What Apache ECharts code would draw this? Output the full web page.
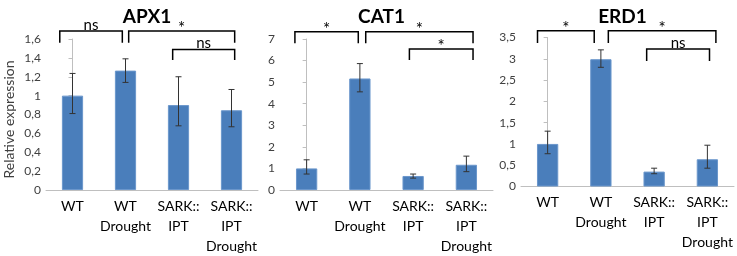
<!DOCTYPE html>
<html>
<head>
<meta charset="utf-8">
<script src="https://cdn.jsdelivr.net/npm/echarts@6/dist/echarts.min.js"></script>
<style>
  html, body { margin: 0; padding: 0; background: #fff; }
  #chart { width: 737px; height: 256px; }
</style>
</head>
<body>
<div id="chart"></div>
<script>
// categories shared by the three panels
const categories = ["WT", "WT\nDrought", "SARK::\nIPT", "SARK::\nIPT\nDrought"];

// APX1
const apx1Mean = [1.0, 1.265, 0.9, 0.845];
const apx1Low = [0.81, 1.14, 0.68, 0.67];
const apx1High = [1.235, 1.39, 1.2, 1.065];
// CAT1
const cat1Mean = [1.0, 5.17, 0.65, 1.17];
const cat1Low = [0.74, 4.55, 0.55, 0.85];
const cat1High = [1.4, 5.86, 0.74, 1.57];
// ERD1
const erd1Mean = [1.0, 2.99, 0.35, 0.64];
const erd1Low = [0.77, 2.8, 0.3, 0.43];
const erd1High = [1.3, 3.21, 0.43, 0.97];

// significance brackets: [from (category pos), to, top value, leg end value, label]
const apx1Brackets = [
  [-0.24, 0.94, 1.684, 1.56, "ns"],
  [1.06, 3.06, 1.684, 1.56, "*"],
  [1.89, 3.06, 1.49, 1.377, "ns"],
];
const cat1Brackets = [
  [-0.22, 0.97, 7.34, 6.8, "*"],
  [1.11, 3.125, 7.34, 6.8, "*"],
  [1.93, 3.125, 6.54, 6.03, "*"],
];
const erd1Brackets = [
  [-0.19, 0.875, 3.66, 3.37, "*"],
  [1.14, 3.16, 3.66, 3.37, "*"],
  [1.86, 3.04, 3.23, 2.95, "ns"],
];

// y axis scales
const yMax = [1.6, 7, 3.5];
const yStep = [0.2, 1, 0.5];
const titles = ["APX1", "CAT1", "ERD1"];

const FONT = "Lato";
const AXIS = "#bfbfbf";
const BAR = "#4a7ebb";

const panels = [
  { mean: apx1Mean, low: apx1Low, high: apx1High, brackets: apx1Brackets },
  { mean: cat1Mean, low: cat1Low, high: cat1High, brackets: cat1Brackets },
  { mean: erd1Mean, low: erd1Low, high: erd1High, brackets: erd1Brackets },
];

const grids = [
  { left: 46, top: 39, width: 212, height: 151 },
  { left: 280, top: 39, width: 213, height: 151 },
  { left: 521, top: 37.5, width: 213, height: 149 },
];

const fmt = (v) => String(Number(v.toFixed(2))).replace(".", ",");

const xAxis = [];
const yAxis = [];
const series = [];
const title = [];

panels.forEach((p, i) => {
  const g = grids[i];
  // visible category axis
  xAxis.push({
    type: "category",
    gridIndex: i,
    data: categories,
    axisLine: { lineStyle: { color: AXIS } },
    axisTick: { length: 4, lineStyle: { color: AXIS } },
    axisLabel: { color: "#000", fontFamily: FONT, fontSize: 14, lineHeight: 20, margin: 6, interval: 0 },
  });
  // hidden value axis for bracket positions
  xAxis.push({ type: "value", gridIndex: i, min: -0.5, max: 3.5, show: false });
  yAxis.push({
    type: "value",
    gridIndex: i,
    min: 0,
    max: yMax[i],
    interval: yStep[i],
    axisLine: { show: true, lineStyle: { color: AXIS } },
    axisTick: { show: true, length: 4, lineStyle: { color: AXIS } },
    splitLine: { show: false },
    axisLabel: { color: "#404040", fontFamily: FONT, fontSize: 12, margin: 5, formatter: fmt },
    name: i === 0 ? "Relative expression" : "",
    nameLocation: "middle",
    nameGap: 30,
    nameTextStyle: { color: "#404040", fontFamily: FONT, fontSize: 14, padding: [0, 0, 0, -10] },
  });

  title.push({
    text: titles[i],
    left: g.left + g.width / 2 - 10,
    top: 2,
    textAlign: "center",
    textStyle: { fontFamily: FONT, fontWeight: "bold", fontSize: 19, color: "#000" },
  });

  series.push({
    type: "bar",
    xAxisIndex: i * 2,
    yAxisIndex: i,
    data: p.mean,
    barWidth: "40%",
    itemStyle: { color: BAR, borderColor: "#6b97cc", borderWidth: 1 },
    silent: true,
  });

  // error bars
  series.push({
    type: "custom",
    xAxisIndex: i * 2,
    yAxisIndex: i,
    data: p.mean.map((_, k) => [k, p.low[k], p.high[k]]),
    encode: { x: 0, y: [1, 2] },
    z: 5,
    renderItem: (params, api) => {
      const lo = api.coord([api.value(0), api.value(1)]);
      const hi = api.coord([api.value(0), api.value(2)]);
      const cap = 3;
      const style = { stroke: "#333", lineWidth: 1 };
      return {
        type: "group",
        children: [
          { type: "line", shape: { x1: lo[0], y1: lo[1], x2: hi[0], y2: hi[1] }, style },
          { type: "line", shape: { x1: hi[0] - cap, y1: hi[1], x2: hi[0] + cap, y2: hi[1] }, style },
          { type: "line", shape: { x1: lo[0] - cap, y1: lo[1], x2: lo[0] + cap, y2: lo[1] }, style },
        ],
      };
    },
  });

  // significance brackets
  series.push({
    type: "custom",
    xAxisIndex: i * 2 + 1,
    yAxisIndex: i,
    clip: false,
    data: p.brackets.map((b) => [b[0], b[1], b[2], b[3]]),
    encode: { x: [0, 1], y: [2, 3] },
    z: 6,
    renderItem: (params, api) => {
      const b = p.brackets[params.dataIndex];
      const l1 = api.coord([b[0], b[3]]);
      const t1 = api.coord([b[0], b[2]]);
      const t2 = api.coord([b[1], b[2]]);
      const l2 = api.coord([b[1], b[3]]);
      const star = b[4] === "*";
      return {
        type: "group",
        children: [
          {
            type: "polyline",
            shape: { points: [l1, t1, t2, l2] },
            style: { stroke: "#000", lineWidth: 1.5, fill: null },
          },
          {
            type: "text",
            x: (t1[0] + t2[0]) / 2,
            y: t1[1] - (star ? 2.5 : 6),
            style: {
              text: b[4],
              fontFamily: FONT,
              fontSize: star ? 17 : 15,
              fill: "#000",
              align: "center",
              verticalAlign: "middle",
            },
          },
        ],
      };
    },
  });
});

const chart = echarts.init(document.getElementById("chart"), null, { renderer: "canvas" });
chart.setOption({
  animation: false,
  title,
  grid: grids,
  xAxis,
  yAxis,
  series,
});
</script>
</body>
</html>
